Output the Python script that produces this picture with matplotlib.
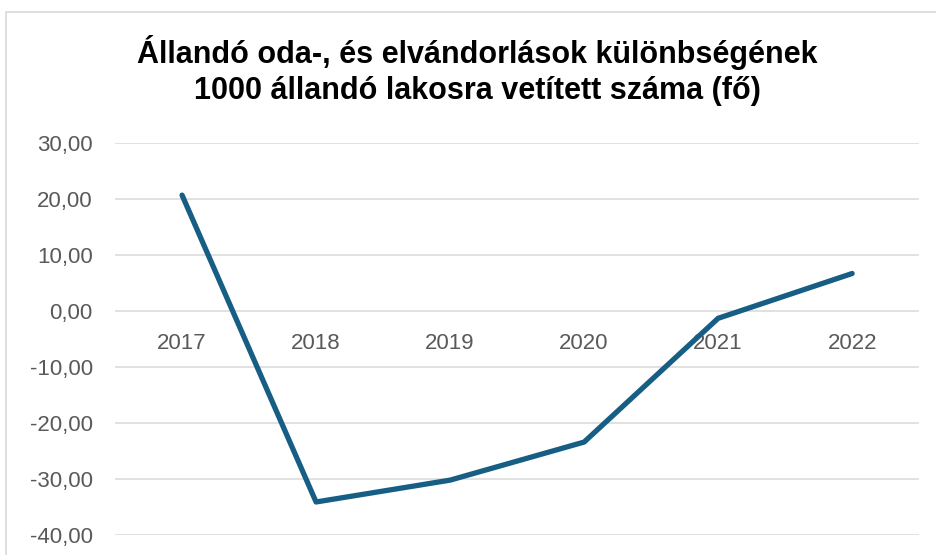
import matplotlib.pyplot as plt
from matplotlib.patches import Rectangle
from matplotlib.ticker import FuncFormatter

years = ["2017", "2018", "2019", "2020", "2021", "2022"]
values = [20.7, -34.1, -30.2, -23.4, -1.3, 6.7]

plt.rcParams['font.family'] = ['Liberation Sans', 'DejaVu Sans']

fig = plt.figure(figsize=(9.36, 5.55), dpi=100)
ax = fig.add_axes([0.1229, 0.036, 0.982 - 0.1229, 0.7423 - 0.036])

# chart border (cut off on the right and bottom)
fig.patches.append(Rectangle((6 / 936, -0.1), 1.2, 1 - 12 / 555 + 0.1,
                             transform=fig.transFigure, fill=False,
                             edgecolor='#d9d9d9', linewidth=1.2))

x = list(range(len(years)))
ax.plot(x, values, color='#165E83', linewidth=3.8, solid_capstyle='round',
        solid_joinstyle='round', zorder=3)

ax.set_xlim(-0.5, len(years) - 0.5)
ax.set_ylim(-40, 30)
ax.set_yticks(range(-40, 31, 10))
ax.yaxis.set_major_formatter(FuncFormatter(lambda v, p: f"{v:.2f}".replace('.', ',')))
ax.set_xticks(x)
ax.set_xticklabels(years)

ax.grid(axis='y', color='#d9d9d9', linewidth=1.1)
ax.set_axisbelow(True)
for s in ax.spines.values():
    s.set_visible(False)
ax.spines['bottom'].set_position(('data', 0))
ax.tick_params(axis='x', length=0, pad=15.5, labelsize=16, labelcolor='#595959')
ax.tick_params(axis='y', length=0, pad=16, labelsize=16, labelcolor='#595959')

fig.text(0.51, 0.873, "Állandó oda-, és elvándorlások különbségének\n1000 állandó lakosra vetített száma (fő)",
         ha='center', va='center', fontsize=22, fontweight='bold', linespacing=1.25)

fig.savefig("out.png", dpi=100)
